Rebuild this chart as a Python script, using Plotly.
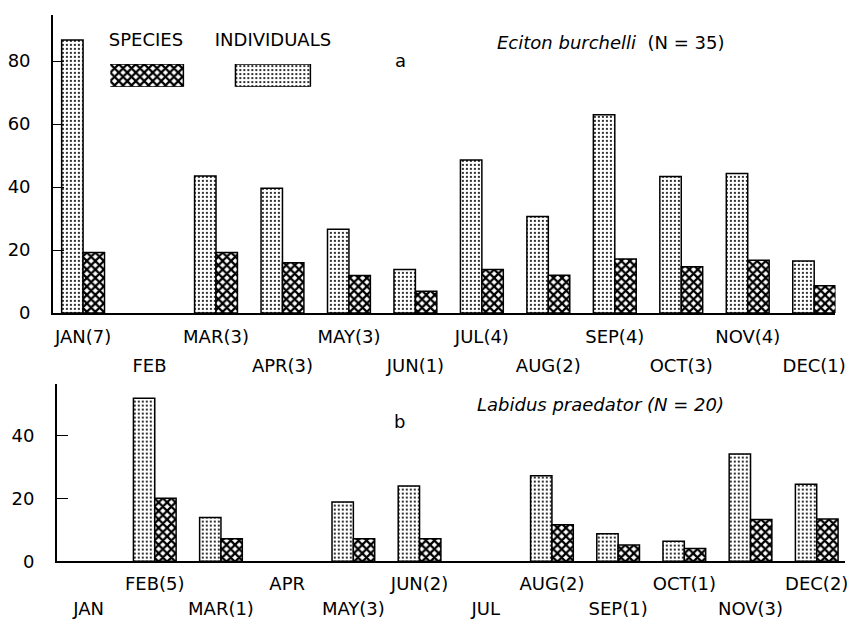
import plotly.graph_objects as go

W, H = 862, 625

months = list(range(12))
labels_a = ["JAN(7)", "FEB", "MAR(3)", "APR(3)", "MAY(3)", "JUN(1)",
            "JUL(4)", "AUG(2)", "SEP(4)", "OCT(3)", "NOV(4)", "DEC(1)"]
labels_b = ["JAN", "FEB(5)", "MAR(1)", "APR", "MAY(3)", "JUN(2)",
            "JUL", "AUG(2)", "SEP(1)", "OCT(1)", "NOV(3)", "DEC(2)"]

ind_a = [86.7, None, 43.5, 39.6, 26.6, 13.8, 48.6, 30.7, 63.0, 43.4, 44.3, 16.5]
sp_a = [19.2, None, 19.2, 16.0, 11.9, 6.9, 13.8, 12.0, 17.2, 14.7, 16.8, 8.7]
ind_b = [None, 52.0, 14.0, None, 18.9, 24.0, None, 27.3, 8.8, 6.4, 34.2, 24.6]
sp_b = [None, 20.1, 7.2, None, 7.2, 7.2, None, 11.7, 5.2, 4.1, 13.3, 13.5]

legend_names = ["SPECIES", "INDIVIDUALS"]

FONT = "DejaVu Sans"
FS = 18

dot_pat = dict(shape=".", fgcolor="black", bgcolor="white", size=4, solidity=0.22, fgopacity=1)
hatch_pat = dict(shape="x", fgcolor="black", bgcolor="white", size=6, solidity=0.6, fgopacity=1)
line = dict(color="black", width=1.5)


def px_x(p):
    return min(1.0, max(0.0, p / W))


def px_y(p):
    return min(1.0, max(0.0, 1 - p / H))


fig = go.Figure()

# panel a
fig.add_trace(go.Bar(x=months, y=ind_a, xaxis="x", yaxis="y", offsetgroup="i",
                     marker=dict(color="white", pattern=dot_pat, line=line), showlegend=False))
fig.add_trace(go.Bar(x=months, y=sp_a, xaxis="x", yaxis="y", offsetgroup="s",
                     marker=dict(color="white", pattern=hatch_pat, line=line), showlegend=False))
# panel b
fig.add_trace(go.Bar(x=months, y=ind_b, xaxis="x2", yaxis="y2", offsetgroup="i",
                     marker=dict(color="white", pattern=dot_pat, line=line), showlegend=False))
fig.add_trace(go.Bar(x=months, y=sp_b, xaxis="x2", yaxis="y2", offsetgroup="s",
                     marker=dict(color="white", pattern=hatch_pat, line=line), showlegend=False))
# dummy traces to instantiate overlay label axes
fig.add_trace(go.Scatter(x=[None], y=[None], xaxis="x3", yaxis="y", showlegend=False, hoverinfo="skip"))
fig.add_trace(go.Scatter(x=[None], y=[None], xaxis="x4", yaxis="y2", showlegend=False, hoverinfo="skip"))
# legend key boxes
fig.add_trace(go.Bar(x=[0], y=[1], xaxis="x5", yaxis="y5", width=0.59,
                     marker=dict(color="white", pattern=hatch_pat, line=line), showlegend=False))
fig.add_trace(go.Bar(x=[1], y=[1], xaxis="x5", yaxis="y5", width=0.59,
                     marker=dict(color="white", pattern=dot_pat, line=line), showlegend=False))

rng_a = [-0.454, 11.32]
rng_b = [-0.48, 11.43]
tf = dict(family=FONT, size=FS, color="black")

even = [m for m in months if m % 2 == 0]
odd = [m for m in months if m % 2 == 1]

fig.update_layout(
    width=W, height=H,
    margin=dict(l=0, r=0, t=0, b=0),
    paper_bgcolor="white", plot_bgcolor="rgba(0,0,0,0)",
    barmode="group", bargap=0.355, bargroupgap=0,
    font=dict(family=FONT, size=FS, color="black"),
    xaxis=dict(domain=[px_x(41), px_x(845)], range=rng_a, anchor="y",
               tickvals=even, ticktext=[labels_a[m] for m in even],
               showline=True, linecolor="black", linewidth=1.5, ticks="",
               showgrid=False, zeroline=False, tickfont=tf, ticklabelstandoff=7),
    xaxis3=dict(overlaying="x", range=rng_a, anchor="y",
                tickvals=odd, ticktext=[labels_a[m] for m in odd],
                showline=False, ticks="", showgrid=False, zeroline=False,
                tickfont=tf, ticklabelstandoff=40),
    yaxis=dict(domain=[px_y(310), px_y(7)], range=[0, 94.7], anchor="x",
               tickvals=[0, 20, 40, 60, 80], showline=True, linecolor="black",
               linewidth=1.5, ticks="inside", ticklen=11, tickcolor="black",
               showgrid=False, zeroline=False, tickfont=tf, ticklabelstandoff=17),
    xaxis2=dict(domain=[px_x(45), px_x(855)], range=rng_b, anchor="y2",
                tickvals=odd, ticktext=[labels_b[m] for m in odd],
                showline=True, linecolor="black", linewidth=1.5, ticks="",
                showgrid=False, zeroline=False, tickfont=tf, ticklabelstandoff=5),
    xaxis4=dict(overlaying="x2", range=rng_b, anchor="y2",
                tickvals=even, ticktext=[labels_b[m] for m in even],
                showline=False, ticks="", showgrid=False, zeroline=False,
                tickfont=tf, ticklabelstandoff=35),
    yaxis2=dict(domain=[px_y(562.3), px_y(381.7)], range=[0, 56.7], anchor="x2",
                tickvals=[0, 20, 40], showline=True, linecolor="black",
                linewidth=1.5, ticks="inside", ticklen=11, tickcolor="black",
                showgrid=False, zeroline=False, tickfont=tf, ticklabelstandoff=17),
    xaxis5=dict(domain=[px_x(100), px_x(307)], range=[-0.28, 1.306], anchor="y5",
                side="top", tickvals=[0, 1], ticktext=legend_names,
                showline=False, ticks="", showgrid=False, zeroline=False,
                tickfont=tf, ticklabelstandoff=13),
    yaxis5=dict(domain=[px_y(80), px_y(57)], range=[0, 1], anchor="x5",
                visible=False),
    annotations=[
        dict(text="<i>Eciton burchelli</i>  (N = 35)", x=px_x(614), y=px_y(35),
             xref="paper", yref="paper", showarrow=False, font=tf,
             xanchor="center", yanchor="middle"),
        dict(text="a", x=px_x(398), y=px_y(53), xref="paper", yref="paper",
             showarrow=False, font=tf, xanchor="center", yanchor="middle"),
        dict(text="<i>Labidus praedator (N = 20)</i>", x=px_x(604), y=px_y(403),
             xref="paper", yref="paper", showarrow=False, font=tf,
             xanchor="center", yanchor="middle"),
        dict(text="b", x=px_x(397), y=px_y(420), xref="paper", yref="paper",
             showarrow=False, font=tf, xanchor="center", yanchor="middle"),
    ],
)

fig.write_html("out.html")
